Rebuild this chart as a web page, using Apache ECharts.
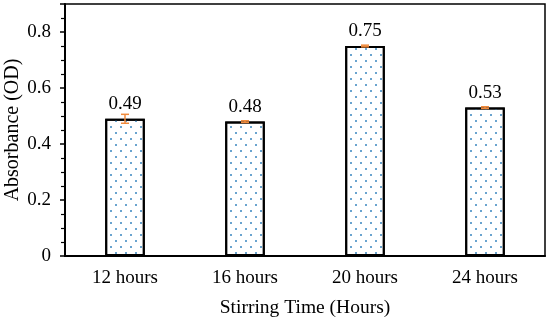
<!DOCTYPE html>
<html>
<head>
<meta charset="utf-8">
<script src="https://cdn.jsdelivr.net/npm/echarts@6/dist/echarts.min.js"></script>
<style>html,body{margin:0;padding:0;background:#fff;}#c{width:550px;height:320px;}</style>
</head>
<body>
<div id="c"></div>
<script>
var categories = ['12 hours', '16 hours', '20 hours', '24 hours'];
var values = [0.49, 0.48, 0.75, 0.53];
var errors = [0.016, 0.003, 0.003, 0.003];
var yTicks = [0, 0.2, 0.4, 0.6, 0.8];

var font = 'Liberation Serif, Times New Roman, serif';
var chart = echarts.init(document.getElementById('c'));
chart.setOption({
  animation: false,
  grid: {left: 65, right: 5, top: 4, bottom: 64, show: true, borderColor: '#000', borderWidth: 1.5,
    backgroundColor: 'transparent', containLabel: false, outerBoundsMode: 'none'},
  xAxis: {
    type: 'category', data: categories,
    name: 'Stirring Time (Hours)', nameLocation: 'middle', nameGap: 42,
    nameTextStyle: {fontFamily: font, fontSize: 19.5, color: '#000'},
    axisLine: {lineStyle: {color: '#000', width: 2}},
    axisTick: {alignWithLabel: true, length: 4, lineStyle: {color: '#000', width: 1.5}},
    axisLabel: {fontFamily: font, fontSize: 19, color: '#000', margin: 13}
  },
  yAxis: {
    type: 'value', min: 0, max: 0.9, interval: 0.2,
    name: 'Absorbance (OD)', nameLocation: 'middle', nameGap: 42, nameMoveOverlap: false,
    nameTextStyle: {fontFamily: font, fontSize: 20, color: '#000'},
    axisLine: {show: true, lineStyle: {color: '#000', width: 2}},
    axisTick: {show: true, length: 5, lineStyle: {color: '#000', width: 1.5}},
    minorTick: {show: true, splitNumber: 4, length: 4, lineStyle: {color: '#000', width: 1.2}},
    splitLine: {show: false},
    axisLabel: {fontFamily: font, fontSize: 19, color: '#000', margin: 14,
      formatter: function (v) { return yTicks.indexOf(Math.round(v*10)/10) >= 0 ? String(Math.round(v*10)/10) : ''; }}
  },
  series: [{
    type: 'bar', data: values, barWidth: '33%',
    itemStyle: {color: '#fff', borderColor: '#000', borderWidth: 2,
      decal: {symbol: 'rect', symbolSize: 1, dashArrayX: [[2, 8], [0, 5, 2, 3]], dashArrayY: [2, 4], color: '#6aa4cf', rotation: 0}},
    label: {show: true, position: 'top', distance: 5, fontFamily: font, fontSize: 19, color: '#000',
      formatter: function (p) { return p.value.toFixed(2); }}
  }, {
    type: 'custom', z: 10,
    data: values.map(function (v, i) { return [i, v, errors[i]]; }),
    renderItem: function (params, api) {
      var i = api.value(0), v = api.value(1), e = api.value(2);
      var hi = api.coord([i, v + e]), lo = api.coord([i, v - e]);
      var w = 4;
      var st = {stroke: '#f08a3c', lineWidth: 1.5};
      return {type: 'group', children: [
        {type: 'line', shape: {x1: hi[0], y1: hi[1], x2: lo[0], y2: lo[1]}, style: st},
        {type: 'line', shape: {x1: hi[0]-w, y1: hi[1], x2: hi[0]+w, y2: hi[1]}, style: st},
        {type: 'line', shape: {x1: lo[0]-w, y1: lo[1], x2: lo[0]+w, y2: lo[1]}, style: st}
      ]};
    }
  }]
});
</script>
</body>
</html>
